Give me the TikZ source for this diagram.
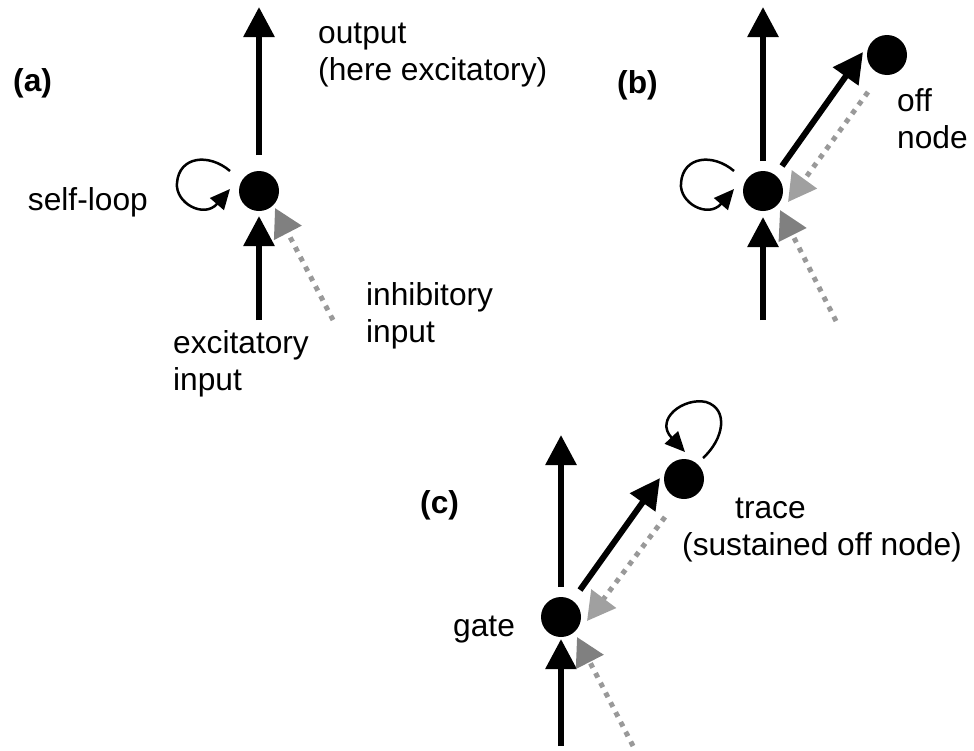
\documentclass[tikz,border=0pt]{standalone}
\usepackage{fontspec}
\setmainfont{Liberation Sans}
\usetikzlibrary{arrows.meta,calc}
\definecolor{dotgray}{HTML}{999999}
\definecolor{headdark}{HTML}{808080}
\definecolor{headlight}{HTML}{A0A0A0}
\begin{document}
\begin{tikzpicture}[x=1pt,y=-1pt,
  dot/.style={circle,fill=black,minimum size=40pt,inner sep=0pt},
  lbl/.style={anchor=base west,inner sep=0pt,font=\fontsize{31.7}{37}\selectfont},
  lblr/.style={anchor=base east,inner sep=0pt,font=\fontsize{31.7}{37}\selectfont},
  plbl/.style={anchor=base west,inner sep=0pt,font=\fontsize{31.7}{37}\selectfont\bfseries},
  exc/.style={line width=6pt,-{Triangle[width=30pt,length=30pt]}},
  inhdark/.style={line width=5pt,draw=dotgray,dash pattern=on 5pt off 6pt,
     -{Triangle[width=30pt,length=28pt,color=headdark]}},
  inhlight/.style={line width=5pt,draw=dotgray,dash pattern=on 5pt off 6pt,
     -{Triangle[width=30pt,length=28pt,color=headlight]}},
  selfloop/.style={line width=2.5pt,-{Triangle[width=18pt,length=20pt]}}]
\useasboundingbox (0,0) rectangle (974,750);

% ---------- panel (a)
\node[dot] (A) at (259,191) {};
\coordinate (aTop) at (259,7);
\coordinate (aBot) at (259,320);
\coordinate (aInh) at (333,320);
\draw[exc] ($(A)+(0,-36)$) -- (aTop);
\draw[exc] (aBot) -- ($(A)+(0,25)$);
\draw[inhdark] (aInh) -- ($(A)+(16,17)$);
\draw[selfloop,shift={(A)}] (-29,-20) .. controls (-50,-38) and (-80,-35) .. (-82,-8)
   .. controls (-84,12) and (-55,28) .. (-29,-2);
\node[plbl] (la) at (13,91) {(a)};
\node[lbl] (lout1) at (318,43) {output};
\node[lbl] (lout2) at (318,80) {(here excitatory)};
\node[lblr] (lself) at (148,210) {self-loop};
\node[lbl] (linh1) at (366,305) {inhibitory};
\node[lbl] (linh2) at (366,342) {input};
\node[lbl] (lexc1) at (173,353) {excitatory};
\node[lbl] (lexc2) at (173,390) {input};

% ---------- panel (b)
\node[dot] (B) at (763,191) {};
\node[dot] (O) at (887,55) {};
\coordinate (bTop) at (763,7);
\coordinate (bBot) at (763,320);
\coordinate (bInh) at (836,321);
\draw[exc] ($(B)+(0,-30)$) -- (bTop);
\draw[exc] (bBot) -- ($(B)+(0,26)$);
\draw[inhdark] (bInh) -- ($(B)+(17,19)$);
\draw[exc] ($(B)+(19,-25)$) -- ($(O)+(-24,-3)$);
\draw[inhlight] ($(O)+(-19,37)$) -- ($(B)+(25,11)$);
\draw[selfloop,shift={(B)}] (-29,-20) .. controls (-50,-38) and (-80,-35) .. (-82,-8)
   .. controls (-84,12) and (-55,28) .. (-29,-2);
\node[plbl] (lb) at (617,93) {(b)};
\node[lbl] (loff1) at (897,111) {off};
\node[lbl] (loff2) at (897,148) {node};

% ---------- panel (c)
\node[dot] (G) at (561,617) {};
\node[dot] (T) at (684,479) {};
\coordinate (cTop) at (561,435);
\coordinate (cBot) at (561,746);
\coordinate (cInh) at (633,746);
\draw[exc] ($(G)+(0,-30)$) -- (cTop);
\draw[exc] (cBot) -- ($(G)+(0,22)$);
\draw[inhdark] (cInh) -- ($(G)+(16,20)$);
\draw[exc] ($(G)+(19,-27)$) -- ($(T)+(-24,-1)$);
\draw[inhlight] ($(T)+(-19,38)$) -- ($(G)+(26,4)$);
\draw[selfloop,shift={(T)}] (19,-21) .. controls (40,-40) and (45,-70) .. (22,-77)
   .. controls (0,-82) and (-30,-60) .. (1,-27);
\node[plbl] (lc) at (420,513) {(c)};
\node[lbl] (ltr1) at (735,518) {trace};
\node[lbl] (ltr2) at (682,555) {(sustained off node)};
\node[lbl] (lgate) at (453,636) {gate};
\end{tikzpicture}
\end{document}
